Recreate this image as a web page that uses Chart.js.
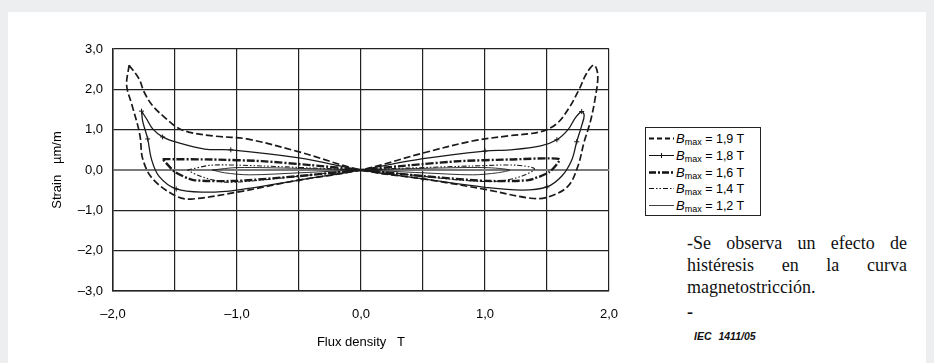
<!DOCTYPE html>
<html>
<head>
<meta charset="utf-8">
<script src="https://cdn.jsdelivr.net/npm/chart.js@4.4.0/dist/chart.umd.min.js"></script>
<style>
  body { margin: 0; background: #eceeef; width: 934px; height: 363px; overflow: hidden; position: relative; font-family: "Liberation Sans", Arial, sans-serif; }
  #card { position: absolute; left: 8px; top: 12px; width: 918px; height: 351px; background: #fff; }
  #chart-wrap { position: absolute; left: 8px; top: 12px; width: 626px; height: 351px; }
  #legend { position: absolute; left: 645px; top: 127px; width: 114px; height: 87px; border: 1px solid #222; background: #fff; font-size: 12.5px; color: #000; }
  .row { position: absolute; left: 0; height: 17px; line-height: 17px; white-space: nowrap; }
  .row svg { position: absolute; left: 3px; top: 4px; }
  .row span { position: absolute; left: 30px; top: 0; }
  .row i { font-size: 13px; }
  .row sub { font-size: 9px; vertical-align: -2px; }
  #note { position: absolute; left: 687px; top: 232px; width: 220px; font-family: "Liberation Serif", "Times New Roman", serif; font-size: 18px; line-height: 22px; text-align: justify; color: #111; }
  #dash { position: absolute; left: 687px; top: 302px; font-family: "Liberation Serif", serif; font-size: 18px; font-weight: bold; color: #111; }
  #iec { position: absolute; left: 694px; top: 330px; font-size: 10.5px; font-style: italic; font-weight: bold; color: #111; word-spacing: 4px; }
</style>
</head>
<body>
<div id="card"></div>
<div id="chart-wrap"><canvas id="line-chart"></canvas></div>
<div id="legend"></div>
<div id="note">-Se observa un efecto de histéresis en la curva magnetostricción.</div>
<div id="dash">-</div>
<div id="iec">IEC 1411/05</div>

<script>
// Series labels (B max in tesla)
var seriesLabels = ["1,9 T", "1,8 T", "1,6 T", "1,4 T", "1,2 T"];

// Tick labels
var xTickLabels = [-2, -1, 0, 1, 2];
var yTickLabels = [-3, -2, -1, 0, 1, 2, 3];

// B max = 1,9 T loop (flux density T / strain um/m)
var flux19 = [-1.87, -1.79, -1.75, -1.68, -1.57, -1.49, -1.39, -1.18, -0.92, -0.5, 0, 0.5, 1.0, 1.37, 1.51, 1.67, 1.75, 1.8, 1.85, 1.89, 1.91, 1.88, 1.82, 1.76, 1.68, 1.58, 1.45, 1.2, 0.9, 0.5, 0, -0.5, -1.0, -1.37, -1.49, -1.68, -1.76, -1.78, -1.8, -1.85, -1.89, -1.87];
var strain19 = [2.6, 2.26, 1.94, 1.59, 1.27, 1.07, 0.94, 0.84, 0.77, 0.45, 0, -0.22, -0.48, -0.7, -0.67, -0.4, 0.1, 0.7, 1.2, 1.8, 2.35, 2.6, 2.4, 2.0, 1.55, 1.15, 0.95, 0.85, 0.72, 0.42, 0, -0.25, -0.55, -0.72, -0.65, -0.22, 0.27, 0.8, 1.1, 1.64, 2.1, 2.6];

// B max = 1,8 T loop
var flux18 = [-1.77, -1.73, -1.68, -1.6, -1.49, -1.26, -1.05, -0.5, 0, 0.5, 1.0, 1.3, 1.5, 1.62, 1.7, 1.74, 1.78, 1.8, 1.78, 1.73, 1.67, 1.58, 1.45, 1.2, 1.0, 0.5, 0, -0.5, -1.0, -1.26, -1.49, -1.63, -1.69, -1.72, -1.76, -1.77];
var strain18 = [1.46, 1.27, 1.02, 0.82, 0.69, 0.52, 0.5, 0.3, 0, -0.22, -0.43, -0.5, -0.42, -0.15, 0.25, 0.7, 1.1, 1.35, 1.45, 1.3, 1.0, 0.75, 0.6, 0.5, 0.47, 0.28, 0, -0.25, -0.5, -0.55, -0.47, -0.15, 0.27, 0.77, 1.2, 1.46];

// B max = 1,6 T loop
var flux16 = [-1.6, -1.2, -0.8, -0.4, 0, 0.5, 1.0, 1.35, 1.52, 1.6, 1.2, 0.8, 0.4, 0, -0.5, -1.0, -1.35, -1.5, -1.6];
var strain16 = [0.27, 0.26, 0.22, 0.12, 0, -0.15, -0.27, -0.25, -0.05, 0.27, 0.26, 0.22, 0.12, 0, -0.15, -0.27, -0.25, -0.05, 0.27];

// B max = 1,4 T loop
var flux14 = [-1.4, -1.2, -0.8, -0.4, 0, 0.4, 0.8, 1.1, 1.3, 1.4, 1.25, 0.9, 0.4, 0, -0.4, -0.8, -1.1, -1.3, -1.4];
var strain14 = [0.0, 0.12, 0.1, 0.05, 0, -0.12, -0.25, -0.28, -0.15, 0.03, 0.12, 0.1, 0.05, 0, -0.12, -0.25, -0.3, -0.15, 0.0];

// B max = 1,2 T loop
var flux12 = [-1.2, -1.0, -0.5, 0, 0.5, 0.9, 1.1, 1.2, 1.0, 0.5, 0, -0.5, -0.9, -1.1, -1.2];
var strain12 = [0.0, 0.06, 0.04, 0, -0.07, -0.12, -0.07, 0.0, 0.06, 0.04, 0, -0.07, -0.12, -0.07, 0.0];

function toPoints(xs, ys) {
  return xs.map(function (x, i) {
    return { x: x, y: ys[i] };
  });
}

// Decimal comma and long minus like the printed figure
function fmt(v) {
  var s = Math.abs(v).toFixed(1).replace(".", ",");
  return v < 0 ? "\u2013" + s : s;
}

document.addEventListener("DOMContentLoaded", function () {
  var ctx = document.getElementById("line-chart").getContext("2d");
  var ink = "#1a1a1a";

  // Shared line options
  var base = {
    showLine: true,
    fill: false,
    tension: 0.35,
    pointRadius: 0,
    borderColor: ink,
    backgroundColor: ink,
  };

  new Chart(ctx, {
    type: "scatter",
    data: {
      datasets: [
        { label: seriesLabels[0], data: toPoints(flux19, strain19), ...base, borderWidth: 1.7, borderDash: [7, 3] },
        {
          label: seriesLabels[1],
          data: toPoints(flux18, strain18),
          ...base,
          borderWidth: 1.3,
          pointStyle: "cross",
          pointBorderWidth: 1,
          pointRadius: function (c) {
            return c.dataIndex % 3 === 0 ? 2.5 : 0;
          },
        },
        { label: seriesLabels[2], data: toPoints(flux16, strain16), ...base, tension: 0.2, borderWidth: 2.4, borderDash: [8, 2, 2, 2] },
        { label: seriesLabels[3], data: toPoints(flux14, strain14), ...base, tension: 0.3, borderWidth: 1.1, borderDash: [5, 2, 1.5, 2, 1.5, 2] },
        { label: seriesLabels[4], data: toPoints(flux12, strain12), ...base, tension: 0.3, borderWidth: 0.9 },
      ],
    },
    options: {
      responsive: true,
      maintainAspectRatio: false,
      animation: false,
      layout: { padding: { top: 37, right: 15, bottom: 12, left: 0 } },
      plugins: {
        legend: { display: false },
        tooltip: { enabled: false },
      },
      scales: {
        x: {
          type: "linear",
          min: -2,
          max: 2,
          afterFit: function (scale) {
            scale.height = 60;
          },
          grid: {
            color: "#222",
            lineWidth: 1.2,
            drawTicks: false,
          },
          border: { color: "#222", width: 1.5 },
          ticks: {
            stepSize: 0.5,
            autoSkip: false,
            maxRotation: 0,
            padding: 16,
            color: "#000",
            font: { family: "Liberation Sans", size: 13 },
            callback: function (value) {
              return xTickLabels.indexOf(value) >= 0 ? fmt(value) : "";
            },
          },
          title: {
            display: true,
            text: "Flux density   T",
            color: "#000",
            font: { family: "Liberation Sans", size: 13 },
            padding: { top: 0, bottom: 1 },
          },
        },
        y: {
          min: -3,
          max: 3,
          afterFit: function (scale) {
            scale.width = 105;
          },
          grid: {
            color: function (c) {
              return c.tick && c.tick.value === 0 ? "#7a7a7a" : "#222";
            },
            lineWidth: function (c) {
              return c.tick && c.tick.value === 0 ? 2 : 1.2;
            },
            drawTicks: false,
          },
          border: { color: "#222", width: 1.5 },
          ticks: {
            stepSize: 1,
            padding: 10,
            color: "#000",
            font: { family: "Liberation Sans", size: 13 },
            callback: function (value) {
              return yTickLabels.indexOf(value) >= 0 ? fmt(value) : "";
            },
          },
          title: {
            display: true,
            text: "Strain   \u00b5m/m",
            color: "#000",
            font: { family: "Liberation Sans", size: 13 },
            padding: { top: 42, bottom: 0 },
          },
        },
      },
    },
  });

  // Legend built by hand (needs italic B with subscript)
  var dashes = ["5,3", "", "7,2,2,2", "5,2,1.5,2,1.5,2", ""];
  var widths = [2, 1, 2.6, 1, 0.8];
  var legend = document.getElementById("legend");
  seriesLabels.forEach(function (lab, i) {
    var row = document.createElement("div");
    row.className = "row";
    row.style.top = 2 + i * 16.8 + "px";
    var svg =
      '<svg width="25" height="9"><line x1="0" y1="4.5" x2="25" y2="4.5" stroke="#111" stroke-width="' +
      widths[i] + '" stroke-dasharray="' + dashes[i] + '"/>' +
      (i === 1 ? '<line x1="12.5" y1="2" x2="12.5" y2="7" stroke="#111" stroke-width="1"/>' : "") +
      "</svg>";
    row.innerHTML = svg + "<span><i>B</i><sub>max</sub> = " + lab + "</span>";
    legend.appendChild(row);
  });
});
</script>
</body>
</html>
